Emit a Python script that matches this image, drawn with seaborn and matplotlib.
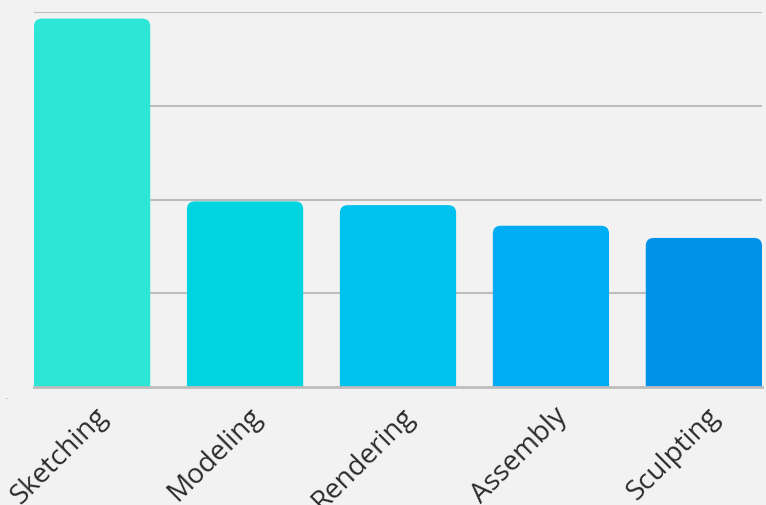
import matplotlib
matplotlib.use('Agg')
import matplotlib.pyplot as plt
import matplotlib.transforms as mtransforms
import seaborn as sns
import pandas as pd
from matplotlib.patches import FancyBboxPatch

categories = ['Sketching', 'Modeling', 'Rendering', 'Assembly', 'Sculpting']
values = [393, 198, 194, 172, 159]
colors = ['#2ee6d6', '#00d4e0', '#00c2ee', '#00adf4', '#0092e8']

df = pd.DataFrame({'Stage': categories, 'Value': values})

sns.set_style('white')
plt.rcParams['font.family'] = ['Open Sans', 'DejaVu Sans']

fig = plt.figure(figsize=(7.66, 5.05), dpi=100, facecolor='#f2f2f2')
ax = fig.add_axes([34 / 766, 118 / 505, 728 / 766, 375 / 505])
ax.set_facecolor('#f2f2f2')

sns.barplot(data=df, x='Stage', y='Value', hue='Stage', palette=colors,
            width=0.76, saturation=1, legend=False, ax=ax)

# swap plain bars for rounded ones (bottom corners pushed below the axis)
ax.set_xlim(-0.38, 4.38)
ax.set_ylim(0, 400)
rad_x = 0.052
aspect = 163
for p in list(ax.patches):
    x, w, h = p.get_x(), p.get_width(), p.get_height()
    fc = p.get_facecolor()
    p.remove()
    ax.add_patch(FancyBboxPatch((x, -20), w, h + 20,
                                boxstyle=f'round,pad=0,rounding_size={rad_x}',
                                mutation_aspect=aspect, facecolor=fc,
                                edgecolor='none', zorder=2))

ax.set_yticks([100, 200, 300, 400])
ax.yaxis.grid(True, color='#bdbdbd', linewidth=1.5, zorder=0)
ax.set_axisbelow(True)
ax.set_yticklabels([])
ax.tick_params(axis='y', length=0)
ax.tick_params(axis='x', length=0, pad=11)
for s in ['top', 'right', 'left']:
    ax.spines[s].set_visible(False)
ax.spines['bottom'].set_color('#bdbdbd')
ax.spines['bottom'].set_linewidth(2)
ax.spines['bottom'].set_zorder(3)
ax.set_xlabel('')
ax.set_ylabel('')
shift = mtransforms.ScaledTranslation(0.02, 0, fig.dpi_scale_trans)
for lbl in ax.get_xticklabels():
    lbl.set_rotation(45)
    lbl.set_ha('right')
    lbl.set_rotation_mode('anchor')
    lbl.set_fontsize(20)
    lbl.set_color('#2b2b2b')
    lbl.set_transform(lbl.get_transform() + shift)

# tiny stray mark left of the baseline
fig.text(7 / 766, 1 - 399 / 505, '-', fontsize=5, color='#999999',
         ha='center', va='center')

fig.savefig('out.png', dpi=100, facecolor='#f2f2f2')
